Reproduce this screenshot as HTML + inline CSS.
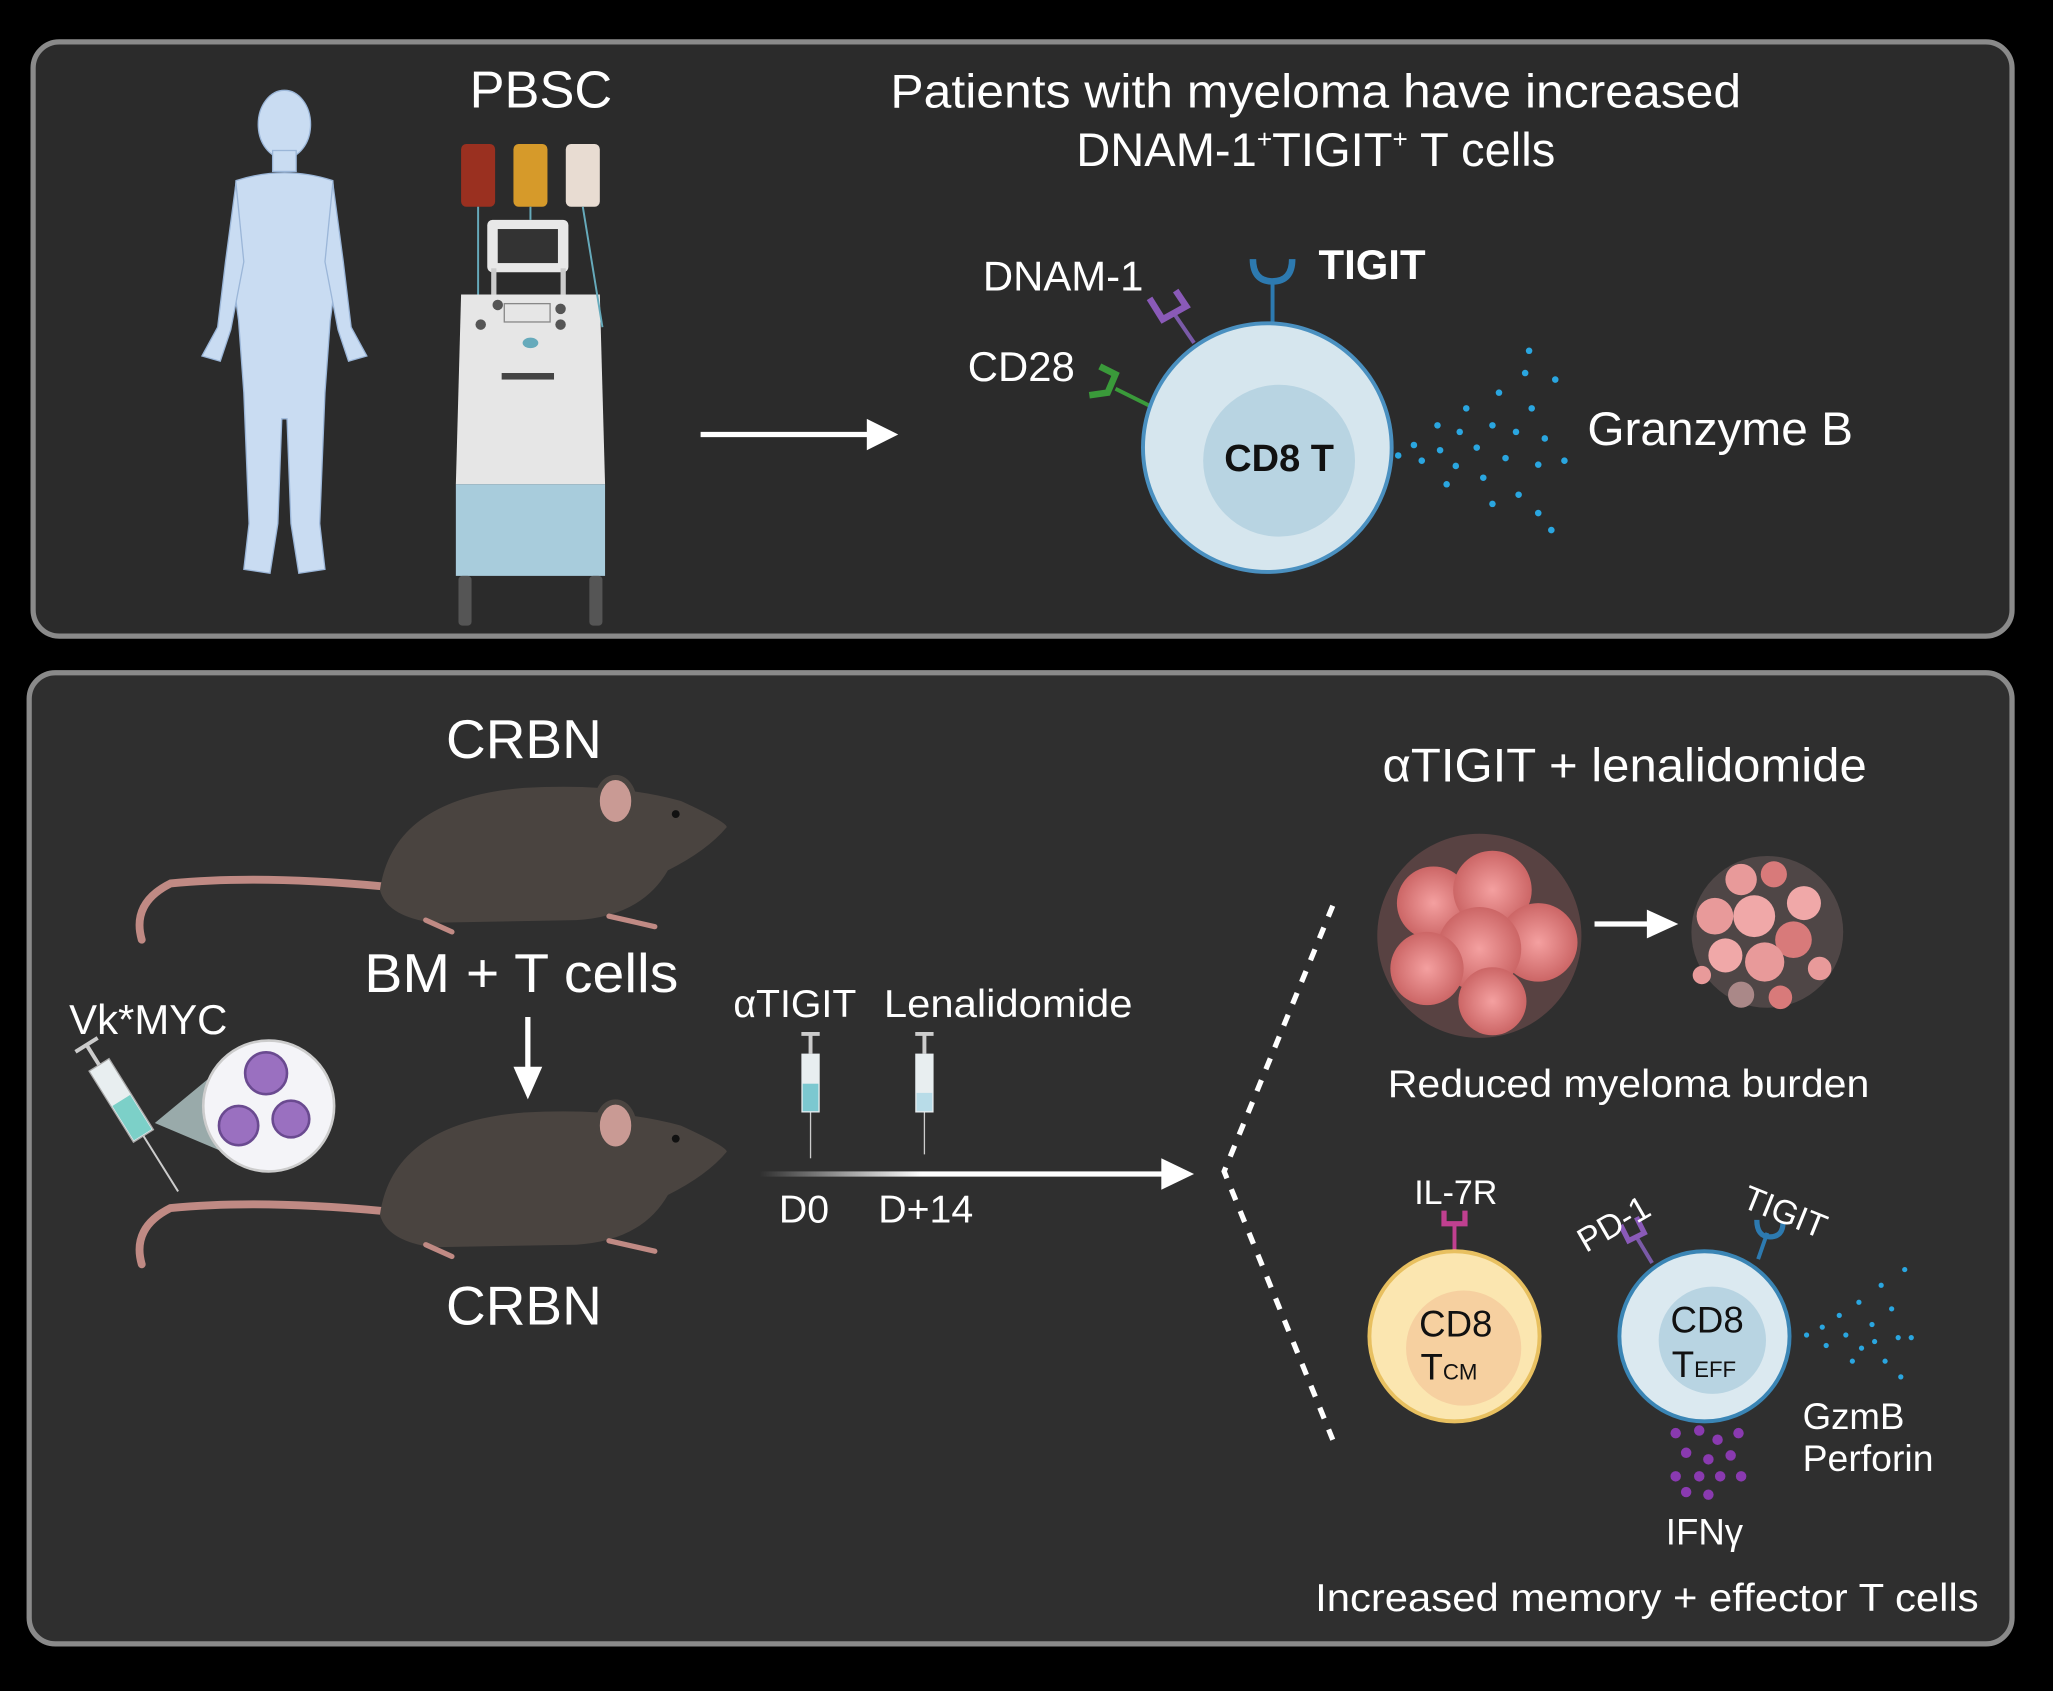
<!DOCTYPE html>
<html><head><meta charset="utf-8"><style>
html,body{margin:0;padding:0;background:#000;}
svg{display:block;}
text{font-family:"Liberation Sans",sans-serif;fill:#fff;}
</style></head><body>
<svg width="2053" height="1691" viewBox="0 0 1568 1292" xmlns="http://www.w3.org/2000/svg">
<defs>
<linearGradient id="tl" x1="0" x2="1"><stop offset="0" stop-color="#fff" stop-opacity="0"/><stop offset="0.4" stop-color="#fff"/></linearGradient>
<radialGradient id="tum" cx="0.5" cy="0.5" r="0.5"><stop offset="0" stop-color="#f4a0a0"/><stop offset="1" stop-color="#c66"/></radialGradient>
</defs>
<rect width="1568" height="1292" fill="#000"/>
<rect x="25" y="32" width="1512" height="454" rx="20" fill="#2b2b2b" stroke="#8a8a8a" stroke-width="4"/>
<rect x="22" y="514" width="1515" height="742" rx="20" fill="#2f2f2f" stroke="#8a8a8a" stroke-width="4"/>

<!-- human -->
<g fill="#c9dcf2" stroke="#9bb6d8" stroke-width="1">
<ellipse cx="217" cy="95" rx="20" ry="26"/>
<rect x="208" y="115" width="18" height="16"/>
<path d="M180,138 Q217,126 254,138 L258,200 L252,245 L248,300 L244,400 L248,435 L228,438 L222,400 L219,320 L215,320 L212,400 L206,438 L186,435 L190,400 L186,300 L182,245 L176,200 Z"/>
<path d="M180,140 L172,200 L166,250 L154,272 L168,276 L176,252 L186,200 Z"/>
<path d="M254,140 L262,200 L268,250 L280,272 L266,276 L258,252 L248,200 Z"/>
</g>
<!-- apheresis machine -->
<g>
<rect x="352" y="110" width="26" height="48" rx="4" fill="#9a3020"/>
<rect x="392" y="110" width="26" height="48" rx="4" fill="#d69a2a"/>
<rect x="432" y="110" width="26" height="48" rx="4" fill="#e8dcd2"/>
<rect x="372" y="168" width="62" height="40" rx="4" fill="#e8e8e8"/>
<rect x="380" y="175" width="46" height="26" fill="#333"/>
<rect x="375" y="205" width="4" height="20" fill="#ccc"/><rect x="428" y="205" width="4" height="20" fill="#ccc"/>
<path d="M352,225 L458,225 L462,370 L348,370 Z" fill="#e6e6e6"/>
<circle cx="367" cy="248" r="4" fill="#555"/><circle cx="428" cy="236" r="4" fill="#555"/><circle cx="380" cy="233" r="4" fill="#555"/><circle cx="428" cy="248" r="4" fill="#555"/>
<rect x="385" y="232" width="35" height="14" fill="none" stroke="#888"/>
<ellipse cx="405" cy="262" rx="6" ry="4" fill="#6ab"/>
<rect x="383" y="285" width="40" height="5" fill="#444"/>
<rect x="348" y="370" width="114" height="70" fill="#a8ccdc"/>
<rect x="350" y="440" width="10" height="38" rx="3" fill="#555"/><rect x="450" y="440" width="10" height="38" rx="3" fill="#555"/>
<path d="M365,158 L365,225 M405,158 L405,168 M445,158 L460,250" stroke="#6ab" fill="none" stroke-width="1.5"/>
</g>
<text x="413" y="82" font-size="40" text-anchor="middle">PBSC</text>
<text x="1005" y="82" font-size="36" text-anchor="middle" textLength="650" lengthAdjust="spacingAndGlyphs">Patients with myeloma have increased</text>
<text x="1005" y="127" font-size="36" text-anchor="middle">DNAM-1<tspan font-size="20" dy="-14">+</tspan><tspan dy="14">TIGIT</tspan><tspan font-size="20" dy="-14">+</tspan><tspan dy="14"> T cells</tspan></text>
<line x1="535" y1="332" x2="665" y2="332" stroke="#fff" stroke-width="4"/>
<polygon points="662,320 686,332 662,344" fill="#fff"/>
<!-- top cell -->
<line x1="972" y1="247" x2="972" y2="214" stroke="#2d7ab0" stroke-width="3"/>
<path d="M957,198 Q957,215 972,215 Q987,215 987,198" fill="none" stroke="#2d7ab0" stroke-width="5"/>
<line x1="912" y1="262" x2="897" y2="240" stroke="#7a5aa8" stroke-width="3"/>
<path d="M878,228 L888,244 L906,234 L898,222" fill="none" stroke="#8a5ab8" stroke-width="5"/>
<line x1="878" y1="310" x2="852" y2="297" stroke="#3a9a3a" stroke-width="3"/>
<path d="M840,280 L852,286 L846,300 L832,302" fill="none" stroke="#3a9a3a" stroke-width="5"/>
<circle cx="968" cy="342" r="95" fill="#d6e6ee" stroke="#4a90c0" stroke-width="3"/>
<circle cx="977" cy="352" r="58" fill="#b8d4e2"/>
<text x="977" y="360" font-size="29" font-weight="bold" text-anchor="middle" style="fill:#111">CD8 T</text>
<text x="812" y="222" font-size="32" text-anchor="middle">DNAM-1</text>
<text x="1048" y="213" font-size="32" font-weight="bold" text-anchor="middle">TIGIT</text>
<text x="780" y="291" font-size="32" text-anchor="middle">CD28</text>
<text x="1314" y="340" font-size="36" text-anchor="middle" textLength="203" lengthAdjust="spacingAndGlyphs">Granzyme B</text>
<g fill="#2aa6e0">
<circle cx="1068" cy="348" r="2.5"/><circle cx="1080" cy="340" r="2.5"/><circle cx="1086" cy="352" r="2.5"/><circle cx="1098" cy="325" r="2.5"/><circle cx="1100" cy="344" r="2.5"/><circle cx="1112" cy="356" r="2.5"/><circle cx="1115" cy="330" r="2.5"/><circle cx="1120" cy="312" r="2.5"/><circle cx="1128" cy="342" r="2.5"/><circle cx="1133" cy="365" r="2.5"/><circle cx="1140" cy="325" r="2.5"/><circle cx="1145" cy="300" r="2.5"/><circle cx="1150" cy="350" r="2.5"/><circle cx="1158" cy="330" r="2.5"/><circle cx="1160" cy="378" r="2.5"/><circle cx="1165" cy="285" r="2.5"/><circle cx="1170" cy="312" r="2.5"/><circle cx="1175" cy="355" r="2.5"/><circle cx="1180" cy="335" r="2.5"/><circle cx="1185" cy="405" r="2.5"/><circle cx="1168" cy="268" r="2.5"/><circle cx="1188" cy="290" r="2.5"/><circle cx="1195" cy="352" r="2.5"/><circle cx="1175" cy="392" r="2.5"/><circle cx="1140" cy="385" r="2.5"/><circle cx="1105" cy="370" r="2.5"/>
</g>

<!-- mice -->
<g id="mouse">
<path d="M300,678 Q200,668 130,675 Q100,690 108,718" fill="none" stroke="#c08a84" stroke-width="6" stroke-linecap="round"/>
<path d="M290,680 Q300,610 400,602 Q470,598 520,612 Q555,628 555,632 Q540,650 510,665 Q490,700 440,703 L330,705 Q295,700 290,680 Z" fill="#4a4440"/>
<ellipse cx="470" cy="612" rx="14" ry="18" fill="#c99a94" stroke="#4a4440" stroke-width="4"/>
<circle cx="516" cy="622" r="3" fill="#111"/>
<path d="M325,703 L345,712 M465,700 L500,708" stroke="#c08a84" stroke-width="4" stroke-linecap="round"/>
</g>
<use href="#mouse" transform="translate(0,248)"/>
<text x="400" y="579" font-size="42" text-anchor="middle">CRBN</text>
<text x="398" y="758" font-size="42" text-anchor="middle" textLength="240" lengthAdjust="spacingAndGlyphs">BM + T cells</text>
<text x="400" y="1012" font-size="42" text-anchor="middle">CRBN</text>
<line x1="403" y1="777" x2="403" y2="820" stroke="#fff" stroke-width="4"/>
<polygon points="392,815 414,815 403,840" fill="#fff"/>
<text x="113" y="790" font-size="32" text-anchor="middle">Vk*MYC</text>
<!-- syringe + zoom circle -->
<polygon points="118,858 170,815 170,880" fill="#9aa"/>
<circle cx="205" cy="845" r="50" fill="#f4f4f8" stroke="#ccc" stroke-width="2"/>
<circle cx="203" cy="820" r="16" fill="#9a70c0" stroke="#6a4a90" stroke-width="2"/>
<circle cx="182" cy="860" r="15" fill="#9a70c0" stroke="#6a4a90" stroke-width="2"/>
<circle cx="222" cy="855" r="14" fill="#9a70c0" stroke="#6a4a90" stroke-width="2"/>
<g transform="rotate(-32 95 845)">
<rect x="86" y="808" width="18" height="64" fill="#e8eef0" stroke="#aaa"/>
<rect x="87" y="840" width="16" height="31" fill="#7cd0c8"/>
<line x1="95" y1="790" x2="95" y2="808" stroke="#ccc" stroke-width="3"/>
<line x1="85" y1="790" x2="105" y2="790" stroke="#ccc" stroke-width="3"/>
<line x1="95" y1="872" x2="95" y2="922" stroke="#ccc" stroke-width="1.5"/>
</g>
<!-- treatment -->
<text x="607" y="777" font-size="30" text-anchor="middle">αTIGIT</text>
<text x="770" y="777" font-size="30" text-anchor="middle" textLength="190" lengthAdjust="spacingAndGlyphs">Lenalidomide</text>
<g>
<line x1="612" y1="790" x2="626" y2="790" stroke="#ccc" stroke-width="3"/><line x1="619" y1="790" x2="619" y2="805" stroke="#ccc" stroke-width="3"/>
<rect x="612" y="805" width="14" height="45" fill="#e8eef0"/><rect x="613" y="828" width="12" height="21" fill="#7cc8d0"/>
<line x1="619" y1="850" x2="619" y2="885" stroke="#ccc"/>
<line x1="699" y1="790" x2="713" y2="790" stroke="#ccc" stroke-width="3"/><line x1="706" y1="790" x2="706" y2="805" stroke="#ccc" stroke-width="3"/>
<rect x="699" y="805" width="14" height="45" fill="#e8eef0"/><rect x="700" y="835" width="12" height="14" fill="#b8dce8"/>
<line x1="706" y1="850" x2="706" y2="882" stroke="#ccc"/>
</g>
<rect x="580" y="895" width="310" height="4" fill="url(#tl)"/>
<polygon points="887,885 912,897 887,909" fill="#fff"/>
<text x="614" y="934" font-size="30" text-anchor="middle">D0</text>
<text x="707" y="934" font-size="30" text-anchor="middle">D+14</text>
<path d="M1018,692 L935,895 L1018,1100" fill="none" stroke="#fff" stroke-width="4" stroke-dasharray="9,9"/>
<text x="1241" y="597" font-size="36" text-anchor="middle" textLength="370" lengthAdjust="spacingAndGlyphs">αTIGIT + lenalidomide</text>
<!-- tumors -->
<g>
<circle cx="1130" cy="715" r="78" fill="#6a4a4a" opacity="0.7"/>
<circle cx="1095" cy="690" r="28" fill="url(#tum)"/><circle cx="1140" cy="680" r="30" fill="url(#tum)"/><circle cx="1175" cy="720" r="30" fill="url(#tum)"/>
<circle cx="1130" cy="725" r="32" fill="url(#tum)"/><circle cx="1090" cy="740" r="28" fill="url(#tum)"/><circle cx="1140" cy="765" r="26" fill="url(#tum)"/>
</g>
<g>
<circle cx="1350" cy="712" r="58" fill="#6a5a5a" opacity="0.55"/>
<circle cx="1330" cy="672" r="12" fill="#e89a9a"/><circle cx="1355" cy="668" r="10" fill="#d87a7a"/><circle cx="1378" cy="690" r="13" fill="#f0a8a8"/>
<circle cx="1310" cy="700" r="14" fill="#e89a9a"/><circle cx="1340" cy="700" r="16" fill="#f0a8a8"/><circle cx="1370" cy="718" r="14" fill="#d87a7a"/>
<circle cx="1318" cy="730" r="13" fill="#f0a8a8"/><circle cx="1348" cy="735" r="15" fill="#e89a9a"/><circle cx="1390" cy="740" r="9" fill="#e89a9a"/>
<circle cx="1330" cy="760" r="10" fill="#a88"/><circle cx="1360" cy="762" r="9" fill="#d87a7a"/><circle cx="1300" cy="745" r="7" fill="#e89a9a"/>
</g>
<line x1="1218" y1="706" x2="1262" y2="706" stroke="#fff" stroke-width="4"/>
<polygon points="1258,695 1282,706 1258,717" fill="#fff"/>
<text x="1244" y="838" font-size="30" text-anchor="middle" textLength="368" lengthAdjust="spacingAndGlyphs">Reduced myeloma burden</text>
<!-- TCM -->
<line x1="1111" y1="955" x2="1111" y2="935" stroke="#c04090" stroke-width="3"/>
<path d="M1103,925 L1103,935 L1119,935 L1119,925" fill="none" stroke="#c04090" stroke-width="4"/>
<circle cx="1111" cy="1021" r="65" fill="#fbe6b0" stroke="#e8c060" stroke-width="3"/>
<circle cx="1118" cy="1030" r="44" fill="#f6d0a0"/>
<text x="1112" y="1021" font-size="28" text-anchor="middle" style="fill:#111">CD8</text>
<text x="1085" y="1054" font-size="28" style="fill:#111">T<tspan font-size="17">CM</tspan></text>
<text x="1112" y="920" font-size="26" text-anchor="middle">IL-7R</text>
<!-- TEFF -->
<line x1="1262" y1="965" x2="1250" y2="945" stroke="#7a5aa8" stroke-width="3"/>
<path d="M1238,936 L1244,948 L1256,942 L1250,930" fill="none" stroke="#8a5ab8" stroke-width="4"/>
<line x1="1343" y1="962" x2="1350" y2="942" stroke="#2d7ab0" stroke-width="3"/>
<path d="M1342,932 Q1342,945 1352,945 Q1362,945 1362,934" fill="none" stroke="#2d7ab0" stroke-width="4"/>
<circle cx="1302" cy="1021" r="65" fill="#dbe9f0" stroke="#3a85b5" stroke-width="3"/>
<circle cx="1308" cy="1024" r="41" fill="#b8d4e2"/>
<text x="1304" y="1018" font-size="28" text-anchor="middle" style="fill:#111">CD8</text>
<text x="1277" y="1052" font-size="28" style="fill:#111">T<tspan font-size="17">EFF</tspan></text>
<text x="1232" y="944" font-size="26" text-anchor="middle" transform="rotate(-30 1232 934)">PD-1</text>
<text x="1364" y="935" font-size="26" text-anchor="middle" transform="rotate(22 1364 925)">TIGIT</text>
<g fill="#2aa6e0">
<circle cx="1380" cy="1020" r="2"/><circle cx="1392" cy="1014" r="2"/><circle cx="1395" cy="1028" r="2"/><circle cx="1405" cy="1005" r="2"/><circle cx="1410" cy="1020" r="2"/><circle cx="1420" cy="995" r="2"/><circle cx="1422" cy="1030" r="2"/><circle cx="1430" cy="1012" r="2"/><circle cx="1437" cy="982" r="2"/><circle cx="1440" cy="1040" r="2"/><circle cx="1445" cy="1000" r="2"/><circle cx="1450" cy="1022" r="2"/><circle cx="1455" cy="970" r="2"/><circle cx="1460" cy="1022" r="2"/><circle cx="1452" cy="1052" r="2"/><circle cx="1432" cy="1025" r="2"/><circle cx="1415" cy="1040" r="2"/>
</g>
<g fill="#8a3ab0">
<circle cx="1280" cy="1095" r="4"/><circle cx="1298" cy="1093" r="4"/><circle cx="1312" cy="1100" r="4"/><circle cx="1328" cy="1095" r="4"/><circle cx="1288" cy="1110" r="4"/><circle cx="1305" cy="1115" r="4"/><circle cx="1322" cy="1112" r="4"/><circle cx="1280" cy="1128" r="4"/><circle cx="1298" cy="1128" r="4"/><circle cx="1314" cy="1128" r="4"/><circle cx="1330" cy="1128" r="4"/><circle cx="1305" cy="1142" r="4"/><circle cx="1288" cy="1140" r="4"/>
</g>
<text x="1377" y="1092" font-size="28">GzmB</text>
<text x="1377" y="1124" font-size="28" textLength="100" lengthAdjust="spacingAndGlyphs">Perforin</text>
<text x="1302" y="1180" font-size="28" text-anchor="middle">IFNγ</text>
<text x="1258" y="1231" font-size="30" text-anchor="middle" textLength="507" lengthAdjust="spacingAndGlyphs">Increased memory + effector T cells</text>
</svg>
</body></html>
